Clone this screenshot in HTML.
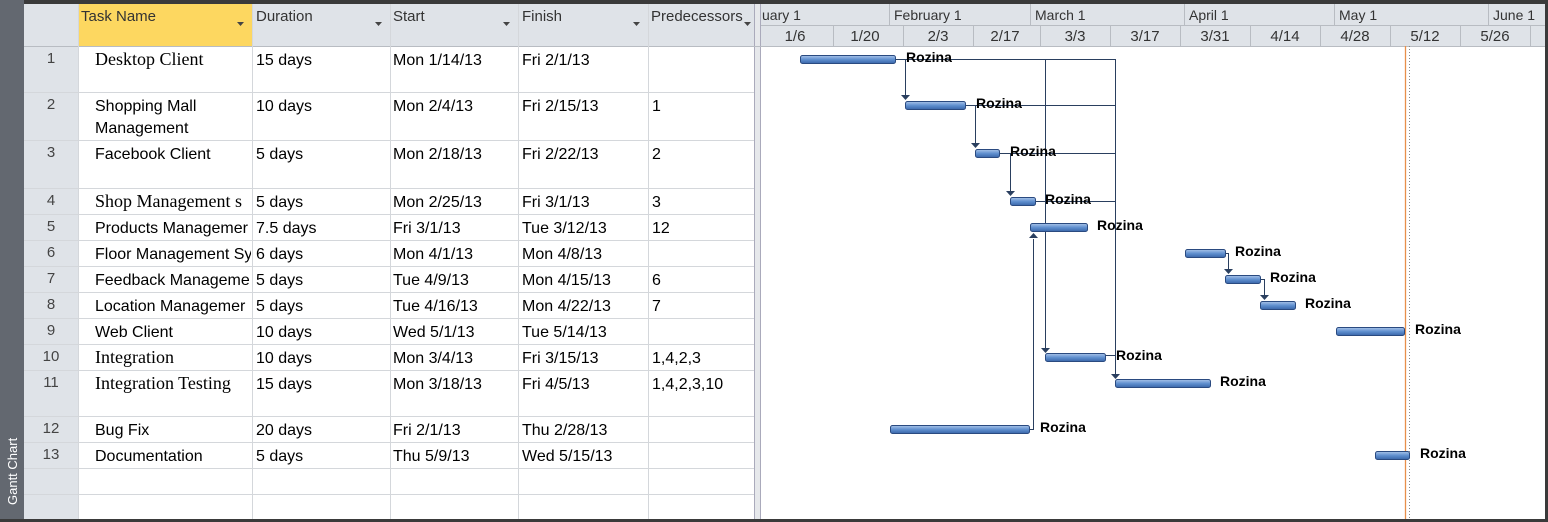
<!DOCTYPE html>
<html><head><meta charset="utf-8"><style>
*{margin:0;padding:0;box-sizing:border-box}
body{width:1548px;height:522px;overflow:hidden;background:#fff;position:relative;font-family:"Liberation Sans",sans-serif}
.c{position:absolute;overflow:hidden;white-space:nowrap;font-size:16px;color:#000;line-height:22px}
.s{font-family:"Liberation Serif",serif;font-size:18px}
.h{position:absolute;font-size:15px;color:#333;white-space:nowrap}
</style></head><body>
<svg width="1548" height="522" style="position:absolute;left:0;top:0">
<defs><linearGradient id="g" x1="0" y1="0" x2="0" y2="1"><stop offset="0" stop-color="#a9c4e8"/><stop offset="0.5" stop-color="#5f8fcf"/><stop offset="1" stop-color="#3a66a8"/></linearGradient></defs>
<rect x="0" y="0" width="1548" height="522" fill="#fff"/>
<rect x="0" y="0" width="1548" height="4" fill="#3a3a3a"/>
<rect x="0" y="0" width="24" height="522" fill="#636870"/>
<rect x="24" y="4" width="730" height="42" fill="#dfe3e8"/>
<rect x="24" y="46" width="54" height="476" fill="#dfe3e8"/>
<rect x="78" y="4" width="174" height="42" fill="#fdd760"/>
<rect x="754" y="4" width="6" height="518" fill="#e6e8eb"/>
<line x1="754.5" y1="4" x2="754.5" y2="522" stroke="#aab"/>
<line x1="760.5" y1="4" x2="760.5" y2="522" stroke="#aab"/>
<rect x="761" y="4" width="787" height="42" fill="#dfe3e8"/>
<line x1="761" y1="25.5" x2="1548" y2="25.5" stroke="#b8bcc2"/>
<line x1="24" y1="46.5" x2="1548" y2="46.5" stroke="#b8bcc2"/>
<g stroke="#b8bcc2">
<line x1="889.5" y1="4" x2="889.5" y2="25"/><line x1="1030.5" y1="4" x2="1030.5" y2="25"/><line x1="1184.5" y1="4" x2="1184.5" y2="25"/><line x1="1334.5" y1="4" x2="1334.5" y2="25"/><line x1="1488.5" y1="4" x2="1488.5" y2="25"/>
<line x1="833.5" y1="25" x2="833.5" y2="46"/><line x1="903.5" y1="25" x2="903.5" y2="46"/><line x1="973.5" y1="25" x2="973.5" y2="46"/><line x1="1040.5" y1="25" x2="1040.5" y2="46"/><line x1="1110.5" y1="25" x2="1110.5" y2="46"/><line x1="1180.5" y1="25" x2="1180.5" y2="46"/><line x1="1250.5" y1="25" x2="1250.5" y2="46"/><line x1="1320.5" y1="25" x2="1320.5" y2="46"/><line x1="1390.5" y1="25" x2="1390.5" y2="46"/><line x1="1460.5" y1="25" x2="1460.5" y2="46"/><line x1="1530.5" y1="25" x2="1530.5" y2="46"/>
</g>
<g stroke="#d4d7db">
<line x1="78.5" y1="4" x2="78.5" y2="522"/><line x1="252.5" y1="4" x2="252.5" y2="522"/><line x1="390.5" y1="4" x2="390.5" y2="522"/><line x1="518.5" y1="4" x2="518.5" y2="522"/><line x1="648.5" y1="4" x2="648.5" y2="522"/>
<line x1="24" y1="92.5" x2="754" y2="92.5"/><line x1="24" y1="140.5" x2="754" y2="140.5"/><line x1="24" y1="188.5" x2="754" y2="188.5"/><line x1="24" y1="214.5" x2="754" y2="214.5"/><line x1="24" y1="240.5" x2="754" y2="240.5"/><line x1="24" y1="266.5" x2="754" y2="266.5"/><line x1="24" y1="292.5" x2="754" y2="292.5"/><line x1="24" y1="318.5" x2="754" y2="318.5"/><line x1="24" y1="344.5" x2="754" y2="344.5"/><line x1="24" y1="370.5" x2="754" y2="370.5"/><line x1="24" y1="416.5" x2="754" y2="416.5"/><line x1="24" y1="442.5" x2="754" y2="442.5"/><line x1="24" y1="468.5" x2="754" y2="468.5"/><line x1="24" y1="494.5" x2="754" y2="494.5"/>
</g>
<rect x="0" y="519" width="1548" height="3" fill="#3a3a3a"/>
<rect x="1545" y="0" width="3" height="522" fill="#3a3a3a"/>
<g fill="#444"><path d="M237 22h7l-3.5 4z"/><path d="M375 22h7l-3.5 4z"/><path d="M503 22h7l-3.5 4z"/><path d="M633 22h7l-3.5 4z"/><path d="M744 22h7l-3.5 4z"/></g>
<text x="17" y="505" transform="rotate(-90 17 505)" fill="#fff" font-size="13" font-family="Liberation Sans">Gantt Chart</text>
<g font-family="Liberation Sans" font-size="15" fill="#333" text-anchor="middle">
<text x="795" y="41">1/6</text><text x="865" y="41">1/20</text><text x="938" y="41">2/3</text><text x="1005" y="41">2/17</text><text x="1075" y="41">3/3</text><text x="1145" y="41">3/17</text><text x="1215" y="41">3/31</text><text x="1285" y="41">4/14</text><text x="1355" y="41">4/28</text><text x="1425" y="41">5/12</text><text x="1495" y="41">5/26</text>
</g>
<g font-family="Liberation Sans" font-size="14" fill="#333">
<text x="762" y="20">uary 1</text><text x="894" y="20">February 1</text><text x="1035" y="20">March 1</text><text x="1189" y="20">April 1</text><text x="1339" y="20">May 1</text><text x="1493" y="20">June 1</text>
</g>
<line x1="1405.5" y1="46" x2="1405.5" y2="519" stroke="#e8904a" stroke-width="1.3"/>
<line x1="1409.5" y1="46" x2="1409.5" y2="519" stroke="#888" stroke-dasharray="1,2"/>
<g stroke="#2a3f5f" fill="none" stroke-width="1">
<path d="M895 59.5H1115.5V374"/><path d="M905.5 59.5V95"/><path d="M1045.5 59.5V348"/>
<path d="M965 105.5H1115.5"/><path d="M975.5 105.5V143"/>
<path d="M999 153.5H1115.5"/><path d="M1010.5 153.5V191"/>
<path d="M1035 201.5H1115.5"/>
<path d="M1105 355.5H1115.5"/>
<path d="M1029 429.5H1033.5V239"/>
<path d="M1225 253.5H1228.5V269"/><path d="M1260 279.5H1264.5V295"/>
</g>
<g fill="#2a3f5f">
<path d="M901 95h9l-4.5 5z"/><path d="M971 143h9l-4.5 5z"/><path d="M1006 191h9l-4.5 5z"/><path d="M1041 348h9l-4.5 5z"/><path d="M1111 374h9l-4.5 5z"/><path d="M1029 238h9l-4.5 -5z"/><path d="M1224 269h9l-4.5 5z"/><path d="M1260 295h9l-4.5 5z"/>
</g>
<g fill="url(#g)" stroke="#2a4a80" stroke-width="1">
<rect x="800.5" y="55.5" width="95" height="8" rx="2"/>
<rect x="905.5" y="101.5" width="60" height="8" rx="2"/>
<rect x="975.5" y="149.5" width="24" height="8" rx="2"/>
<rect x="1010.5" y="197.5" width="25" height="8" rx="2"/>
<rect x="1030.5" y="223.5" width="57" height="8" rx="2"/>
<rect x="1185.5" y="249.5" width="40" height="8" rx="2"/>
<rect x="1225.5" y="275.5" width="35" height="8" rx="2"/>
<rect x="1260.5" y="301.5" width="35" height="8" rx="2"/>
<rect x="1336.5" y="327.5" width="68" height="8" rx="2"/>
<rect x="1045.5" y="353.5" width="60" height="8" rx="2"/>
<rect x="1115.5" y="379.5" width="95" height="8" rx="2"/>
<rect x="890.5" y="425.5" width="139" height="8" rx="2"/>
<rect x="1375.5" y="451.5" width="34" height="8" rx="2"/>
</g>
<g font-family="Liberation Sans" font-size="14" font-weight="bold" fill="#000">
<text x="906" y="62">Rozina</text><text x="976" y="108">Rozina</text><text x="1010" y="156">Rozina</text><text x="1045" y="204">Rozina</text><text x="1097" y="230">Rozina</text><text x="1235" y="256">Rozina</text><text x="1270" y="282">Rozina</text><text x="1305" y="308">Rozina</text><text x="1415" y="334">Rozina</text><text x="1116" y="360">Rozina</text><text x="1220" y="386">Rozina</text><text x="1040" y="432">Rozina</text><text x="1420" y="458">Rozina</text>
</g>
</svg>
<div class="h" style="left:81px;top:8px">Task Name</div>
<div class="h" style="left:256px;top:8px">Duration</div>
<div class="h" style="left:393px;top:8px">Start</div>
<div class="h" style="left:522px;top:8px">Finish</div>
<div class="h" style="left:651px;top:8px">Predecessors</div>
<div id="t"></div>
<script>
var rows=[[46,"1","Desktop Client",1,"15 days","Mon 1/14/13","Fri 2/1/13",""],
[92,"2","Shopping Mall<br>Management",0,"10 days","Mon 2/4/13","Fri 2/15/13","1"],
[140,"3","Facebook Client",0,"5 days","Mon 2/18/13","Fri 2/22/13","2"],
[188,"4","Shop Management s",1,"5 days","Mon 2/25/13","Fri 3/1/13","3"],
[214,"5","Products Managemer",0,"7.5 days","Fri 3/1/13","Tue 3/12/13","12"],
[240,"6","Floor Management Sy",0,"6 days","Mon 4/1/13","Mon 4/8/13",""],
[266,"7","Feedback Manageme",0,"5 days","Tue 4/9/13","Mon 4/15/13","6"],
[292,"8","Location Managemer",0,"5 days","Tue 4/16/13","Mon 4/22/13","7"],
[318,"9","Web Client",0,"10 days","Wed 5/1/13","Tue 5/14/13",""],
[344,"10","Integration",1,"10 days","Mon 3/4/13","Fri 3/15/13","1,4,2,3"],
[370,"11","Integration Testing",1,"15 days","Mon 3/18/13","Fri 4/5/13","1,4,2,3,10"],
[416,"12","Bug Fix",0,"20 days","Fri 2/1/13","Thu 2/28/13",""],
[442,"13","Documentation",0,"5 days","Thu 5/9/13","Wed 5/15/13",""]];
var h="";
rows.forEach(function(r){var t=r[0]+4,ts=r[3]?r[0]+2:t;
h+='<div class="c" style="left:24px;width:54px;top:'+(r[0]+2)+'px;text-align:center;color:#444;font-size:15px">'+r[1]+'</div>';
h+='<div class="c'+(r[3]?' s':'')+'" style="left:95px;width:156px;top:'+ts+'px">'+r[2]+'</div>';
h+='<div class="c" style="left:256px;width:134px;top:'+t+'px">'+r[4]+'</div>';
h+='<div class="c" style="left:393px;width:124px;top:'+t+'px">'+r[5]+'</div>';
h+='<div class="c" style="left:522px;width:125px;top:'+t+'px">'+r[6]+'</div>';
h+='<div class="c" style="left:652px;width:100px;top:'+t+'px">'+r[7]+'</div>';});
document.getElementById("t").innerHTML=h;
</script>
</body></html>
